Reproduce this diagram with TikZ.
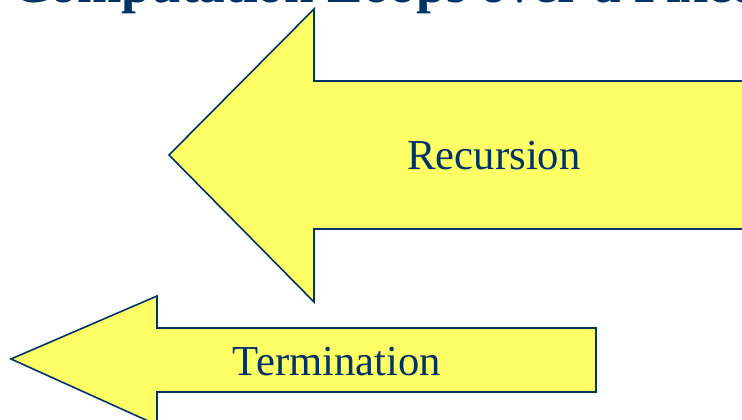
\documentclass[tikz,border=0pt]{standalone}
\usepackage{fontspec}
\setmainfont{Liberation Serif}
\definecolor{navy}{HTML}{003366}
\definecolor{paleyellow}{HTML}{FFFF66}
\begin{document}
\begin{tikzpicture}[x=1pt,y=-1pt,
  arrowshape/.style={draw=navy,fill=paleyellow,line width=1.6pt,line join=miter},
  label/.style={text=navy,font=\fontsize{42.7}{48}\selectfont,anchor=base,inner sep=0pt},
  heading/.style={text=navy,font=\fontsize{53.3}{60}\selectfont\bfseries,anchor=base west,inner sep=0pt}]
\useasboundingbox (0,0) rectangle (742,420);
\clip (0,0) rectangle (742,420);
% title line, running past the top and right edges
\node[heading] (title) at (12,3) {Computation Loops over a Fixed};
% large left-pointing arrow
\draw[arrowshape] (169,155) -- (314,9) -- (314,81) -- (760,81) -- (760,229)
  -- (314,229) -- (314,302) -- cycle;
\node[label] (recursion) at (494,169) {Recursion};
% small left-pointing arrow
\draw[arrowshape] (11,359) -- (157,296) -- (157,328) -- (596,328) -- (596,392)
  -- (157,392) -- (157,425) -- cycle;
\node[label] (termination) at (337,375) {Termination};
\end{tikzpicture}
\end{document}
